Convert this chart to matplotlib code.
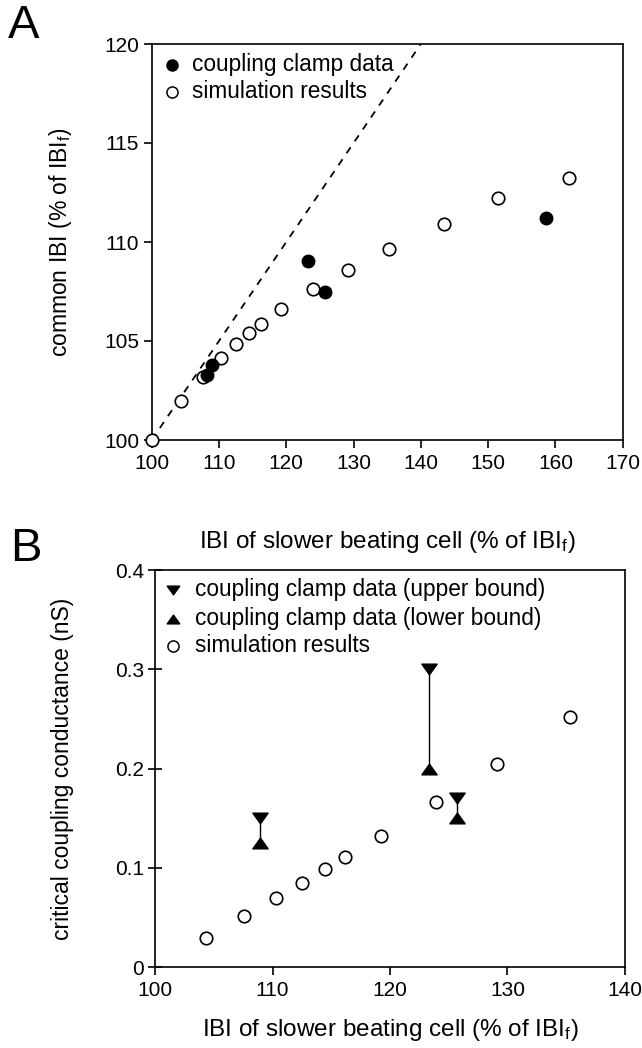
import matplotlib
matplotlib.use("Agg")
import matplotlib.pyplot as plt
from matplotlib.path import Path

plt.rcParams['font.family'] = ['Liberation Sans', 'DejaVu Sans']
plt.rcParams['mathtext.fontset'] = 'custom'
plt.rcParams['mathtext.rm'] = 'Liberation Sans'
plt.rcParams['mathtext.it'] = 'Liberation Sans:italic'

# ---------------- data ----------------
# Panel A
sim_x_A = [100.0, 104.3, 107.6, 110.3, 112.5, 114.5, 116.2, 119.2, 123.9, 129.1, 135.3, 143.5, 151.4, 162.0]
sim_y_A = [100.0, 101.95, 103.2, 104.15, 104.85, 105.4, 105.85, 106.6, 107.65, 108.6, 109.65, 110.9, 112.2, 113.25]
clamp_x_A = [108.2, 108.9, 123.2, 125.8, 158.6]
clamp_y_A = [103.3, 103.8, 109.05, 107.45, 111.2]
ref_x_A = [100, 140]          # dashed reference line: common IBI = (x + 100) / 2
ref_y_A = [100, 120]

# Panel B
sim_x_B = [104.3, 107.6, 110.3, 112.5, 114.5, 116.2, 119.2, 123.9, 129.1, 135.3]
sim_y_B = [0.029, 0.052, 0.070, 0.085, 0.099, 0.111, 0.132, 0.166, 0.205, 0.252]
clamp_x_B = [108.9, 123.3, 125.75]
clamp_upper_B = [0.150, 0.300, 0.170]
clamp_lower_B = [0.125, 0.200, 0.150]

xticks_A = [100, 110, 120, 130, 140, 150, 160, 170]
yticks_A = [100, 105, 110, 115, 120]
xticks_B = [100, 110, 120, 130, 140]
yticks_B = [0, 0.1, 0.2, 0.3, 0.4]
yticklabels_B = ['0', '0.1', '0.2', '0.3', '0.4']

xlabel = r'IBI of slower beating cell (% of IBI$_\mathrm{f}$)'
ylabel_A = r'common IBI (% of IBI$_\mathrm{f}$)'
ylabel_B = 'critical coupling conductance (nS)'
legend_A = ['coupling clamp data', 'simulation results']
legend_B = ['coupling clamp data (upper bound)', 'coupling clamp data (lower bound)', 'simulation results']

# ---------------- styling ----------------
W, H = 642, 1048
fig = plt.figure(figsize=(W / 100, H / 100), dpi=100)

tri_down = Path([(-1, 0.7), (1, 0.7), (0, -0.7), (-1, 0.7)], [1, 2, 2, 79])
tri_up = Path([(-1, -0.7), (1, -0.7), (0, 0.7), (-1, -0.7)], [1, 2, 2, 79])

FS_TICK = 15
FS_XLAB = 17.5
FS_YLAB = 16.5
FS_LEG = 16.3
LW = 1.2
MS = 9

def style(ax):
    for s in ax.spines.values():
        s.set_linewidth(LW)
    ax.tick_params(axis='both', labelsize=FS_TICK, width=LW, length=6, colors='black')
    ax.tick_params(axis='x', direction='out', pad=4)

axA = fig.add_axes([151.7 / W, 1 - 440 / H, 471 / W, 396 / H])
style(axA)
axA.tick_params(axis='y', direction='out', pad=3)
axA.plot(ref_x_A, ref_y_A, linestyle=(0, (4, 4)), color='black', lw=1.3)
axA.plot(sim_x_A, sim_y_A, 'o', mfc='white', mec='black', mew=1.2, ms=MS, clip_on=False, zorder=3)
axA.plot(clamp_x_A, clamp_y_A, 'o', mfc='black', mec='black', mew=1.0, ms=MS, clip_on=False, zorder=4)
axA.set_xlim(100, 170)
axA.set_ylim(100, 120)
axA.set_xticks(xticks_A)
axA.set_yticks(yticks_A)
axA.set_xlabel(xlabel, fontsize=FS_XLAB)
axA.xaxis.set_label_coords(0.5, -0.225)
axA.set_ylabel(ylabel_A, fontsize=FS_YLAB)
axA.yaxis.set_label_coords(-0.165, 0.5)

# legend A
ly = [0.947, 0.879]
axA.plot([0.0425], [ly[0]], 'o', mfc='black', mec='black', ms=8, transform=axA.transAxes)
axA.plot([0.0425], [ly[1]], 'o', mfc='white', mec='black', mew=1.1, ms=8, transform=axA.transAxes)
for t, y in zip(legend_A, ly):
    axA.text(0.085, y, t, transform=axA.transAxes, fontsize=FS_LEG, va='center', ha='left')

fig.text(8 / W, 1 - 26 / H, 'A', fontsize=34, va='center', ha='left')

axB = fig.add_axes([155.1 / W, 1 - 967.3 / H, 469.7 / W, 397.3 / H])
style(axB)
axB.tick_params(axis='y', direction='inout', length=10, pad=3)
for x, u, l in zip(clamp_x_B, clamp_upper_B, clamp_lower_B):
    axB.plot([x, x], [l, u], color='black', lw=1.0)
axB.plot(clamp_x_B, clamp_upper_B, linestyle='none', marker=tri_down, ms=11, mfc='black', mec='black', zorder=4)
axB.plot(clamp_x_B, clamp_lower_B, linestyle='none', marker=tri_up, ms=11, mfc='black', mec='black', zorder=4)
axB.plot(sim_x_B, sim_y_B, 'o', mfc='white', mec='black', mew=1.2, ms=MS, zorder=3)
axB.set_xlim(100, 140)
axB.set_ylim(0, 0.4)
axB.set_xticks(xticks_B)
axB.set_yticks(yticks_B)
axB.set_yticklabels(yticklabels_B)
axB.set_xlabel(xlabel, fontsize=FS_XLAB)
axB.xaxis.set_label_coords(0.5, -0.124)
axB.set_ylabel(ylabel_B, fontsize=FS_YLAB)
axB.yaxis.set_label_coords(-0.172, 0.5)

lyB = [0.9497, 0.877, 0.809]
axB.plot([0.0388], [lyB[0]], linestyle='none', marker=tri_down, ms=9, mfc='black', mec='black', transform=axB.transAxes)
axB.plot([0.0388], [lyB[1]], linestyle='none', marker=tri_up, ms=9, mfc='black', mec='black', transform=axB.transAxes)
axB.plot([0.0388], [lyB[2]], 'o', mfc='white', mec='black', mew=1.1, ms=8, transform=axB.transAxes)
for t, y in zip(legend_B, lyB):
    axB.text(0.085, y, t, transform=axB.transAxes, fontsize=FS_LEG, va='center', ha='left')

fig.text(10 / W, 1 - 549 / H, 'B', fontsize=34, va='center', ha='left')

fig.savefig('out.png', dpi=100)
